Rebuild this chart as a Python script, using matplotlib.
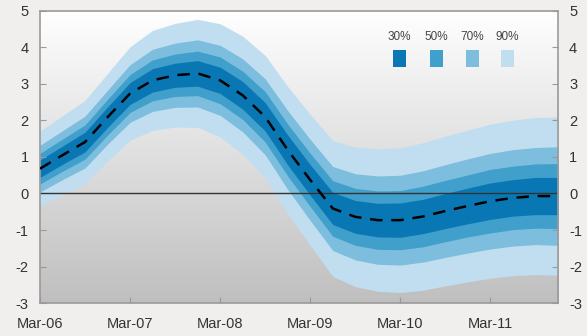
import numpy as np
import matplotlib
matplotlib.use('Agg')
import matplotlib.pyplot as plt
from matplotlib.colors import LinearSegmentedColormap

# Quarterly central projection and band half-widths
quarters = np.arange(24)  # Mar-06 .. Dec-11
median = [0.68, 1.05, 1.41, 2.09, 2.74, 3.10, 3.24, 3.29, 3.10, 2.69, 2.10, 1.19,
          0.37, -0.41, -0.64, -0.73, -0.73, -0.63, -0.48, -0.34, -0.21, -0.12, -0.07, -0.07]
hw30 = [0.24, 0.25, 0.27, 0.28, 0.30, 0.32, 0.33, 0.35, 0.36, 0.38, 0.39, 0.41,
        0.42, 0.44, 0.45, 0.46, 0.47, 0.47, 0.48, 0.49, 0.50, 0.50, 0.51, 0.51]
hw50 = [0.42, 0.44, 0.47, 0.49, 0.52, 0.56, 0.58, 0.61, 0.64, 0.66, 0.69, 0.71,
        0.73, 0.76, 0.78, 0.80, 0.81, 0.83, 0.84, 0.85, 0.87, 0.87, 0.88, 0.89]
hw70 = [0.64, 0.67, 0.71, 0.74, 0.79, 0.85, 0.88, 0.92, 0.96, 1.00, 1.04, 1.08,
        1.11, 1.15, 1.18, 1.21, 1.23, 1.25, 1.27, 1.29, 1.31, 1.32, 1.33, 1.35]
hw90 = [1.03, 1.08, 1.14, 1.20, 1.28, 1.37, 1.42, 1.48, 1.55, 1.62, 1.68, 1.74,
        1.79, 1.86, 1.91, 1.95, 1.98, 2.02, 2.05, 2.08, 2.11, 2.13, 2.15, 2.17]

band_labels = ['30%', '50%', '70%', '90%']
band_colors = ['#0a77b5', '#419fcb', '#7dbddd', '#c0def0']
tick_pos = [0, 4, 8, 12, 16, 20]
tick_labels = ['Mar-06', 'Mar-07', 'Mar-08', 'Mar-09', 'Mar-10', 'Mar-11']

plt.rcParams['font.family'] = ['Liberation Sans', 'DejaVu Sans']
plt.rcParams['axes.unicode_minus'] = False

fig = plt.figure(figsize=(5.87, 3.36), dpi=100, facecolor='#f0efed')
ax = fig.add_axes([0.0681, 0.0982, 0.8825, 0.8691])

# background gradient: white at top to grey at bottom
grad = np.linspace(1, 0, 256).reshape(-1, 1)
cmap = LinearSegmentedColormap.from_list('bg', ['#bfbfbf', '#ffffff'])
ax.imshow(grad, aspect='auto', cmap=cmap, extent=[0, 23, -3, 5], zorder=0, origin='upper')

med = np.array(median)
for hw, col in zip([hw90, hw70, hw50, hw30], band_colors[::-1]):
    hw = np.array(hw)
    ax.fill_between(quarters, med - hw, med + hw, color=col, lw=0, zorder=1)

ax.axhline(0, color='#333333', lw=1, zorder=2)
ax.plot(quarters, med, color='black', lw=1.8, dashes=(5, 3.5), zorder=3)

ax.set_xlim(0, 23)
ax.set_ylim(-3, 5)
ax.set_xticks(tick_pos)
ax.set_xticklabels(tick_labels)
ax.set_yticks(range(-3, 6))
ax.tick_params(axis='both', direction='in', length=4, color='#999999',
               labelsize=10.5, labelcolor='#333333')
ax.tick_params(axis='y', right=True, labelright=True, pad=8)
ax.tick_params(axis='x', pad=10)
for s in ax.spines.values():
    s.set_color('#9a9a9a')
    s.set_linewidth(1.2)

# legend squares
leg_x = [399.5, 436.5, 472.5, 507.5]
for lab, col, px in zip(band_labels, band_colors, leg_x):
    fx = px / 587
    fig.text(fx, 1 - 37 / 336, lab, ha='center', va='center', fontsize=8.5, color='#444444')
    fig.patches.append(plt.Rectangle((fx - 6.5 / 587, 1 - 67 / 336), 13 / 587, 17 / 336,
                                     transform=fig.transFigure, facecolor=col,
                                     edgecolor='none', figure=fig))

fig.savefig('out.png', dpi=100, facecolor=fig.get_facecolor())
